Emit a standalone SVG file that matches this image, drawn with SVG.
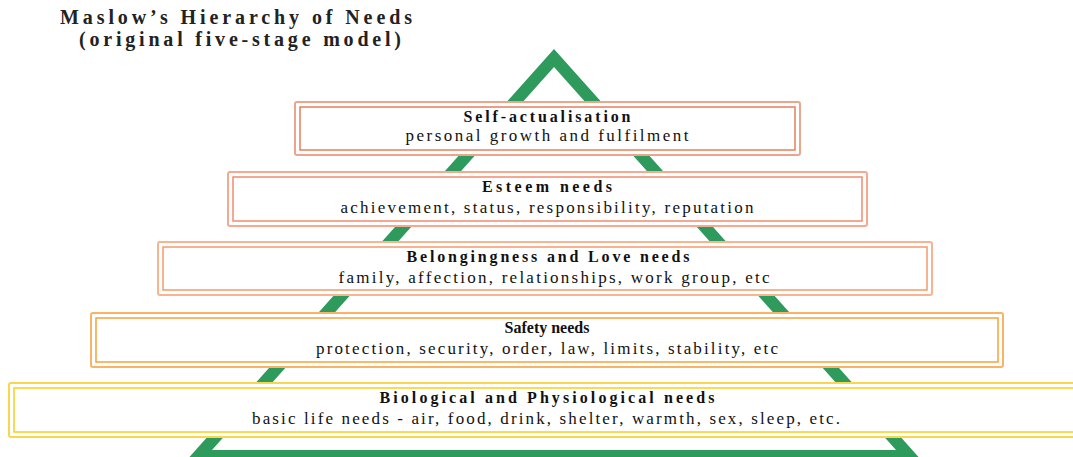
<svg xmlns="http://www.w3.org/2000/svg" width="1073" height="457" viewBox="0 0 1073 457">
<style>
text{font-family:"Liberation Serif","Times New Roman","DejaVu Serif",serif}
.title{font-weight:bold;font-size:20px;fill:#222;text-anchor:middle}
.h{font-weight:bold;font-size:16px;fill:#111;text-anchor:middle}
.s{font-size:17px;fill:#111;text-anchor:middle}
.o{fill:#fff;stroke-width:2}
.i{fill:none;stroke-width:1.5}
</style>
<rect width="1073" height="457" fill="#fff"/>
<g id="title">
<text class="title" x="236" y="24" textLength="352" lengthAdjust="spacing">Maslow’s Hierarchy of Needs</text>
<text class="title" x="240" y="46" textLength="322" lengthAdjust="spacing">(original five-stage model)</text>
</g>
<g id="pyramid">
<path fill="#2E9A5C" fill-rule="evenodd" d="M554,49 L923,462 L185,462 Z M554,67 L212,450 L896,450 Z"/>
</g>
<g id="level5">
<rect class="o" stroke="#F8D84A" x="9" y="383" width="1080" height="54" rx="2"/>
<rect class="i" stroke="#F5D020" x="14" y="388" width="1070" height="44"/>
<text class="h" x="547" y="403" textLength="335" lengthAdjust="spacing">Biological and Physiological needs</text>
<text class="s" x="546" y="424" textLength="588" lengthAdjust="spacing">basic life needs - air, food, drink, shelter, warmth, sex, sleep, etc.</text>
</g>
<g id="level4">
<rect class="o" stroke="#F8B464" x="91" y="313" width="912" height="54" rx="2"/>
<rect class="i" stroke="#F6A23C" x="96" y="318" width="902" height="44"/>
<text class="h" x="547" y="333">Safety needs</text>
<text class="s" x="547" y="354" textLength="462" lengthAdjust="spacing">protection, security, order, law, limits, stability, etc</text>
</g>
<g id="level3">
<rect class="o" stroke="#F8B490" x="158" y="242" width="774" height="53" rx="2"/>
<rect class="i" stroke="#F49A6A" x="163" y="247" width="764" height="43"/>
<text class="h" x="548" y="262" textLength="283" lengthAdjust="spacing">Belongingness and Love needs</text>
<text class="s" x="554" y="283" textLength="431" lengthAdjust="spacing">family, affection, relationships, work group, etc</text>
</g>
<g id="level2">
<rect class="o" stroke="#F8A890" x="228" y="172" width="639" height="54" rx="2"/>
<rect class="i" stroke="#F28A6E" x="233" y="177" width="629" height="44"/>
<text class="h" x="547" y="192" textLength="130" lengthAdjust="spacing">Esteem needs</text>
<text class="s" x="547" y="213" textLength="413" lengthAdjust="spacing">achievement, status, responsibility, reputation</text>
</g>
<g id="level1">
<rect class="o" stroke="#EDA48C" x="295" y="102" width="505" height="53" rx="2"/>
<rect class="i" stroke="#E4805E" x="300" y="107" width="495" height="43"/>
<text class="h" x="547" y="122" textLength="167" lengthAdjust="spacing">Self-actualisation</text>
<text class="s" x="547" y="141" textLength="283" lengthAdjust="spacing">personal growth and fulfilment</text>
</g>
<g id="connectors"/>
</svg>
